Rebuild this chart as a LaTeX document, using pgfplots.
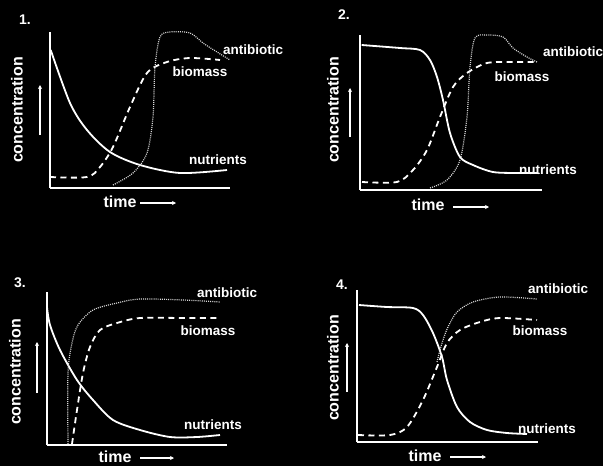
\documentclass[border=0pt]{standalone}
\usepackage{pgfplots}
\pgfplotsset{compat=1.18}
\usepackage{fontspec}
\setmainfont{Liberation Sans}
\usetikzlibrary{arrows.meta}
\begin{document}
\begin{tikzpicture}
\pgfplotsset{
  panel/.style={scale only axis, axis lines=left,
    axis line style={-, white, line width=2pt},
    xtick=\empty, ytick=\empty, xmin=0, ymin=0,
    anchor=south west, clip=false},
  nutr/.style={white, line width=1.8pt, smooth, tension=0.5, no markers},
  biom/.style={white, line width=1.8pt, dash pattern=on 6pt off 4.5pt, smooth, tension=0.5, no markers},
  anti/.style={white!85!black, line width=1.2pt, dash pattern=on 1pt off 1.1pt, smooth, tension=0.5, no markers},
}
\tikzset{
  lbl/.style={white, font=\bfseries\fontsize{13.5}{13.5}\selectfont},
  axl/.style={white, font=\bfseries\fontsize{16}{16}\selectfont},
  num/.style={white, font=\bfseries\fontsize{14}{14}\selectfont},
  arr/.style={white, line width=1.4pt, -{Stealth[length=4pt,width=4pt]}},
}
\fill[black] (0,0) rectangle (603pt,-466pt);
\useasboundingbox (0,0) rectangle (603pt,-466pt);

% ---- panel 1
\begin{axis}[panel, at={(50pt,-188pt)}, width=180pt, height=156pt, xmax=180, ymax=156]
\addplot[nutr] coordinates {(0.7,138) (20,85) (37,58) (60,36) (90,23) (130,15) (177,18)};
\addplot[biom] coordinates {(0,11) (37,11) (50,21) (63,41) (80,81) (97,115) (117,126) (140,130) (170,128)};
\addplot[anti] coordinates {(63,3) (83,15) (97,35) (103,71) (105,121) (110,151) (120,156) (140,155) (153,145) (167,136) (180,128)};
\end{axis}
\node[num] at (25pt,-20pt) {1.};
\node[axl, rotate=90] at (17pt,-110pt) {concentration};
\draw[arr] (40pt,-135pt) -- (40pt,-85pt);
\node[axl] at (120pt,-202pt) {time};
\draw[arr] (140pt,-203pt) -- (176pt,-203pt);
\node[lbl] at (253pt,-50pt) {antibiotic};
\node[lbl] at (200pt,-72pt) {biomass};
\node[lbl] at (218pt,-160pt) {nutrients};

% ---- panel 2
\begin{axis}[panel, at={(360pt,-190pt)}, width=182pt, height=155pt, xmax=182, ymax=155]
\addplot[nutr] coordinates {(1.7,145) (40,142) (60,140) (70,130) (77,113) (83,90) (90,57) (100,33) (113,25) (133,18) (157,17) (178,17)};
\addplot[biom] coordinates {(2,8) (37,8) (53,20) (67,40) (80,73) (93,103) (107,117) (127,127) (153,128) (177,128)};
\addplot[anti] coordinates {(70,2) (87,10) (100,30) (107,73) (110,123) (115,152) (127,155) (143,153) (153,142) (167,133) (177,128)};
\end{axis}
\node[num] at (344pt,-15pt) {2.};
\node[axl, rotate=90] at (333pt,-110pt) {concentration};
\draw[arr] (350pt,-137pt) -- (350pt,-88pt);
\node[axl] at (428pt,-205pt) {time};
\draw[arr] (453pt,-207pt) -- (489pt,-207pt);
\node[lbl] at (573pt,-52pt) {antibiotic};
\node[lbl] at (522pt,-77pt) {biomass};
\node[lbl] at (548pt,-170pt) {nutrients};

% ---- panel 3
\begin{axis}[panel, at={(47pt,-445pt)}, width=180pt, height=153pt, xmax=180, ymax=153]
\addplot[nutr] coordinates {(0,138) (3,120) (13,95) (30,65) (46,45) (66,25) (93,15) (123,8) (150,8) (173,10)};
\addplot[biom] coordinates {(25,1) (30,35) (36,72) (43,98) (53,115) (70,122) (93,127) (136,127) (170,127)};
\addplot[anti] coordinates {(21,1) (21,72) (25,102) (31,120) (46,135) (70,142) (93,146) (136,145) (173,143)};
\end{axis}
\node[num] at (20pt,-283pt) {3.};
\node[axl, rotate=90] at (15pt,-372pt) {concentration};
\draw[arr] (37pt,-393pt) -- (37pt,-342pt);
\node[axl] at (115pt,-457pt) {time};
\draw[arr] (140pt,-458pt) -- (174pt,-458pt);
\node[lbl] at (227pt,-293pt) {antibiotic};
\node[lbl] at (208pt,-331pt) {biomass};
\node[lbl] at (213pt,-425pt) {nutrients};

% ---- panel 4
\begin{axis}[panel, at={(357pt,-442pt)}, width=181pt, height=152pt, xmax=181, ymax=152]
\addplot[nutr] coordinates {(2,137) (30,135) (56,134) (66,127) (76,109) (85,85) (90,62) (100,35) (113,20) (130,12) (150,9) (170,8)};
\addplot[biom] coordinates {(1,7) (33,7) (50,15) (66,42) (80,75) (90,99) (103,112) (123,120) (143,124) (180,122)};
\addplot[anti] coordinates {(80,80) (83,92) (86,102) (91,115) (100,130) (116,140) (143,145) (180,143)};
\end{axis}
\node[num] at (342pt,-285pt) {4.};
\node[axl, rotate=90] at (333pt,-368pt) {concentration};
\draw[arr] (347pt,-392pt) -- (347pt,-343pt);
\node[axl] at (425pt,-456pt) {time};
\draw[arr] (450pt,-457pt) -- (486pt,-457pt);
\node[lbl] at (558pt,-289pt) {antibiotic};
\node[lbl] at (540pt,-331pt) {biomass};
\node[lbl] at (547pt,-429pt) {nutrients};
\end{tikzpicture}
\end{document}
